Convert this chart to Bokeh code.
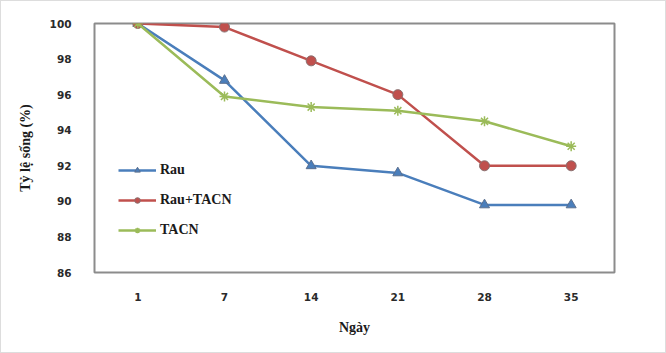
from bokeh.plotting import figure
from bokeh.embed import file_html
from bokeh.resources import INLINE
from bokeh.models import Legend, LegendItem, FixedTicker, Range1d

days = ["1", "7", "14", "21", "28", "35"]
rau = [100, 96.8, 92.0, 91.6, 89.8, 89.8]
rau_tacn = [100, 99.8, 97.9, 96.0, 92.0, 92.0]
tacn = [100, 95.9, 95.3, 95.1, 94.5, 93.1]
y_ticks = [86, 88, 90, 92, 94, 96, 98, 100]

p = figure(width=666, height=353, x_range=days, y_range=Range1d(86, 100),
           output_backend="svg", toolbar_location=None,
           min_border_left=93, min_border_right=53, min_border_top=22, min_border_bottom=82)
p.border_fill_color = "white"
p.outline_line_color = "#8c8c8c"
p.outline_line_width = 2
p.xgrid.grid_line_color = None
p.ygrid.grid_line_color = None

p.yaxis.ticker = FixedTicker(ticks=y_ticks)
for ax in (p.xaxis[0], p.yaxis[0]):
    ax.axis_line_color = None
    ax.major_tick_line_color = None
    ax.minor_tick_line_color = None
    ax.major_label_text_font = "DejaVu Sans"
    ax.major_label_text_font_style = "bold"
    ax.major_label_text_font_size = "10.5px"
    ax.major_label_text_color = "#2a2a2a"
    ax.axis_label_text_font = "Liberation Serif"
    ax.axis_label_text_font_style = "bold"
    ax.axis_label_text_font_size = "14px"
    ax.axis_label_text_color = "#1a1a1a"
p.xaxis.major_label_standoff = 14
p.yaxis.major_label_standoff = 17
p.xaxis.axis_label = "Ngày"
p.xaxis.axis_label_standoff = 16
p.yaxis.axis_label = "Tỷ lệ sống (%)"
p.yaxis.axis_label_standoff = 14

blue, red, green = "#4a7ebb", "#c0504d", "#9bbb59"
l1 = p.line(days, rau, line_color=blue, line_width=2.5)
s1 = p.scatter(days, rau, marker="triangle", size=10, fill_color=blue, line_color="#5a6f8f")
l2 = p.line(days, rau_tacn, line_color=red, line_width=2.5)
s2 = p.scatter(days, rau_tacn, marker="circle", size=10, fill_color=red, line_color="#8a7070")
l3 = p.line(days, tacn, line_color=green, line_width=2.5)
s3 = p.scatter(days, tacn, marker="asterisk", size=10, line_color=green, line_width=1.5)

legend = Legend(items=[LegendItem(label="Rau", renderers=[l1, s1]),
                       LegendItem(label="Rau+TACN", renderers=[l2, s2]),
                       LegendItem(label="TACN", renderers=[l3, s3])],
                location=(24, 34), background_fill_alpha=0, border_line_color=None,
                label_text_font="Liberation Serif", label_text_font_size="14px",
                label_text_font_style="bold", label_text_color="#1a1a1a",
                glyph_width=38, glyph_height=14, spacing=14, padding=0, margin=0,
                label_standoff=4)
p.add_layout(legend)
p.styles = {"border": "1px solid #dddddd"}

open("out.html", "w").write(file_html(p, INLINE))
